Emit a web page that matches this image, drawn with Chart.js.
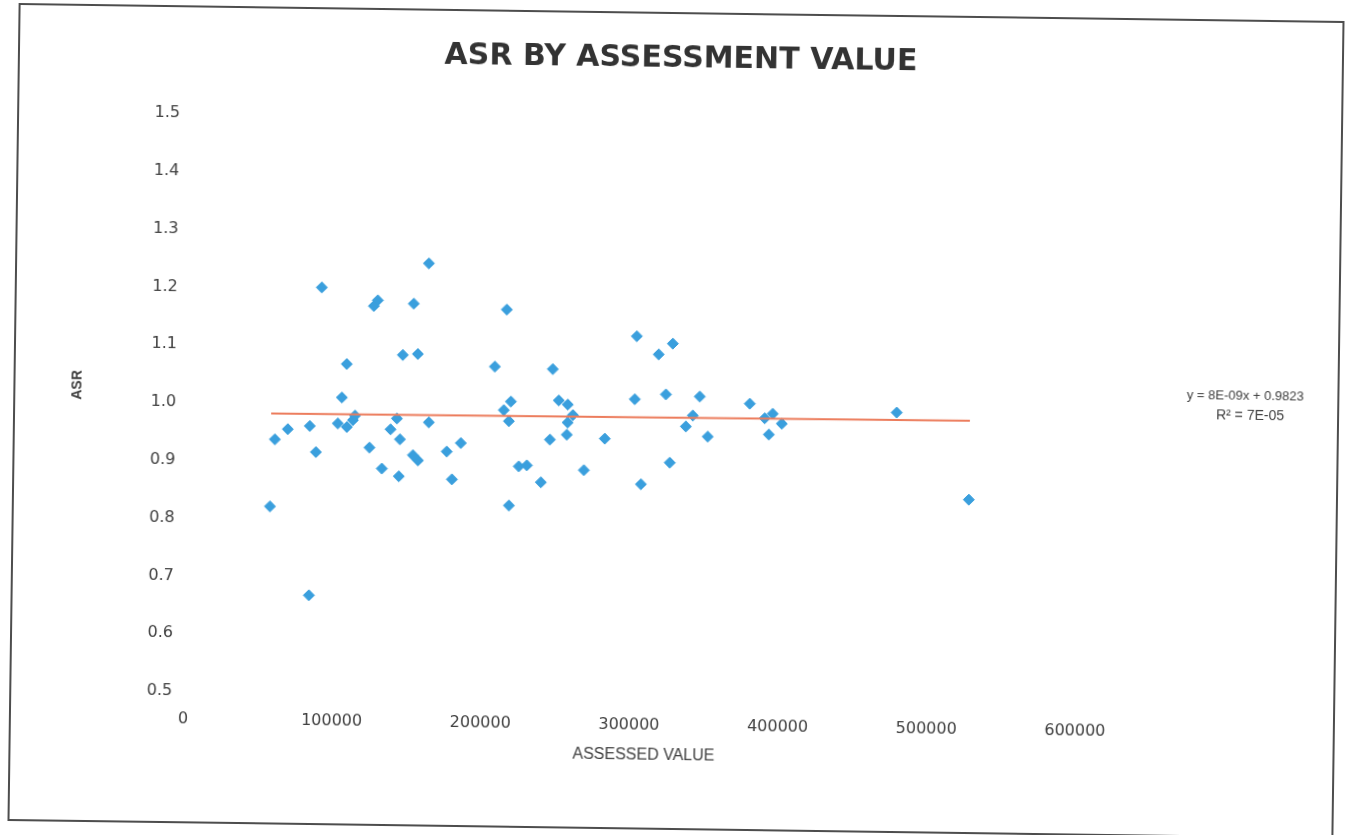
<!DOCTYPE html>
<html>
<head>
<meta charset="utf-8">
<script src="https://cdn.jsdelivr.net/npm/chart.js@4.4.1/dist/chart.umd.min.js"></script>
<style>
  html, body { margin: 0; padding: 0; background: #ffffff; width: 1354px; height: 835px; overflow: hidden; }
  #frame {
    position: absolute; left: 13px; top: 12px; width: 1326px; height: 818px;
    box-sizing: border-box; border: 2px solid #4d4d4d; background: #ffffff;
    transform: rotate(0.78deg); transform-origin: 50% 50%;
  }
  #chart { display: block; }
</style>
</head>
<body>
<div id="frame"><canvas id="chart" width="1322" height="814"></canvas></div>
<script>
// ---- data ----
const CHART_TITLE = 'ASR BY ASSESSMENT VALUE';
const X_TITLE = 'ASSESSED VALUE';
const Y_TITLE = 'ASR';
const assessedValues = [
  56600, 59300, 67900, 82700, 87000, 83600, 89500, 104000, 107000, 101500,
  107600, 111600, 113000, 123000, 124700, 127300, 131500, 137000, 141200, 143400,
  143000, 144600, 151500, 152300, 155700, 154700, 161300, 162700, 175000, 178700,
  184400, 206600, 213000, 214100, 216500, 217700, 217300, 223600, 229000, 238600,
  244300, 245600, 249900, 255600, 256000, 256100, 259500, 267400, 281200, 301800,
  301000, 305900, 316700, 321900, 325100, 326100, 335600, 340200, 344700, 350400,
  378400, 388600, 393900, 391500, 400100, 477300, 526600
];
const asrValues = [
  0.822, 0.938, 0.956, 0.962, 0.917, 0.669, 1.202, 1.012, 1.070, 0.967,
  0.961, 0.973, 0.981, 0.926, 1.171, 1.181, 0.890, 0.958, 0.977, 0.941,
  0.877, 1.087, 1.176, 0.914, 0.905, 1.089, 1.246, 0.971, 0.921, 0.873,
  0.936, 1.069, 0.994, 1.168, 0.975, 1.009, 0.829, 0.897, 0.899, 0.870,
  0.944, 1.066, 1.012, 0.953, 1.005, 0.974, 0.987, 0.892, 0.947, 1.125,
  1.016, 0.869, 1.094, 1.025, 0.907, 1.113, 0.970, 0.989, 1.022, 0.953,
  1.011, 0.986, 0.994, 0.958, 0.977, 0.999, 0.850
];
const TREND_SLOPE = 8e-9;
const TREND_INTERCEPT = 0.9823;
const EQUATION_TEXT = 'y = 8E-09x + 0.9823';
const R2_TEXT = 'R\u00B2 = 7E-05';
const X_TICK_MIN = 0, X_TICK_MAX = 600000, X_TICK_STEP = 100000;
const Y_TICK_MIN = 0.5, Y_TICK_MAX = 1.5, Y_TICK_STEP = 0.1;

// ---- build datasets ----
const scatterPoints = assessedValues.map((x, i) => ({ x: x, y: asrValues[i] }));
const xMin = Math.min(...assessedValues);
const xMax = Math.max(...assessedValues);
const trendPoints = [xMin, xMax].map(x => ({ x: x, y: TREND_INTERCEPT + TREND_SLOPE * x }));

const textColor = '#404040';

// axis titles and trendline label, placed relative to the chart area
const annotationPlugin = {
  id: 'annotations',
  afterDraw(chart) {
    const { ctx, chartArea } = chart;
    const midX = (chartArea.left + chartArea.right) / 2;
    const midY = (chartArea.top + chartArea.bottom) / 2;
    ctx.save();
    ctx.fillStyle = textColor;
    ctx.textAlign = 'center';
    ctx.textBaseline = 'middle';

    // x axis title
    ctx.font = '16px "Liberation Sans", Arial, sans-serif';
    ctx.fillText(X_TITLE, midX + 15, chartArea.bottom + 58);

    // y axis title (rotated)
    ctx.save();
    ctx.translate(chartArea.left - 110, midY - 16);
    ctx.rotate(-Math.PI / 2);
    ctx.font = 'bold 14px "Liberation Sans", Arial, sans-serif';
    ctx.fillText(Y_TITLE, 0, 0);
    ctx.restore();

    // trendline equation
    ctx.font = '13px "Liberation Sans", Arial, sans-serif';
    ctx.fillText(EQUATION_TEXT, chartArea.right + 166, chartArea.top + 268);
    ctx.font = '14px "Liberation Sans", Arial, sans-serif';
    ctx.fillText(R2_TEXT, chartArea.right + 171, chartArea.top + 288);
    ctx.restore();
  }
};

new Chart(document.getElementById('chart'), {
  type: 'scatter',
  data: {
    datasets: [
      {
        label: 'Trend',
        type: 'line',
        data: trendPoints,
        borderColor: '#ec7c5c',
        borderWidth: 2,
        pointRadius: 0,
        fill: false,
        order: 0
      },
      {
        label: 'ASR',
        data: scatterPoints,
        pointStyle: 'rectRot',
        pointRadius: 5.5,
        pointBackgroundColor: '#3a9fdd',
        pointBorderColor: '#3a9fdd',
        pointBorderWidth: 1,
        order: 1
      }
    ]
  },
  options: {
    responsive: false,
    animation: false,
    devicePixelRatio: 1,
    layout: { padding: { left: 0, right: 0, top: 0, bottom: 0 } },
    plugins: {
      legend: { display: false },
      tooltip: { enabled: false },
      title: {
        display: true,
        text: CHART_TITLE,
        color: '#333333',
        font: { family: '"DejaVu Sans", sans-serif', size: 30, weight: 'bold' },
        padding: { top: 27, bottom: 43 }
      }
    },
    scales: {
      x: {
        type: 'linear',
        min: X_TICK_MIN, max: X_TICK_MAX,
        grid: { display: false },
        border: { display: false },
        ticks: {
          stepSize: X_TICK_STEP,
          color: textColor,
          padding: 10,
          maxRotation: 0,
          font: { family: '"DejaVu Sans", sans-serif', size: 16 },
          callback: v => String(v)
        },
        afterFit(scale) { scale.height = 130; }
      },
      y: {
        type: 'linear',
        min: Y_TICK_MIN, max: Y_TICK_MAX,
        grid: { display: false },
        border: { display: false },
        ticks: {
          stepSize: Y_TICK_STEP,
          color: textColor,
          padding: 3,
          font: { family: '"DejaVu Sans", sans-serif', size: 16 },
          callback: v => Number(v).toFixed(1)
        },
        afterFit(scale) { scale.width = 172; }
      },
      yRight: {
        type: 'linear',
        position: 'right',
        grid: { display: false },
        border: { display: false },
        ticks: { display: false },
        afterFit(scale) { scale.width = 258; }
      }
    }
  },
  plugins: [annotationPlugin]
});
</script>
</body>
</html>
